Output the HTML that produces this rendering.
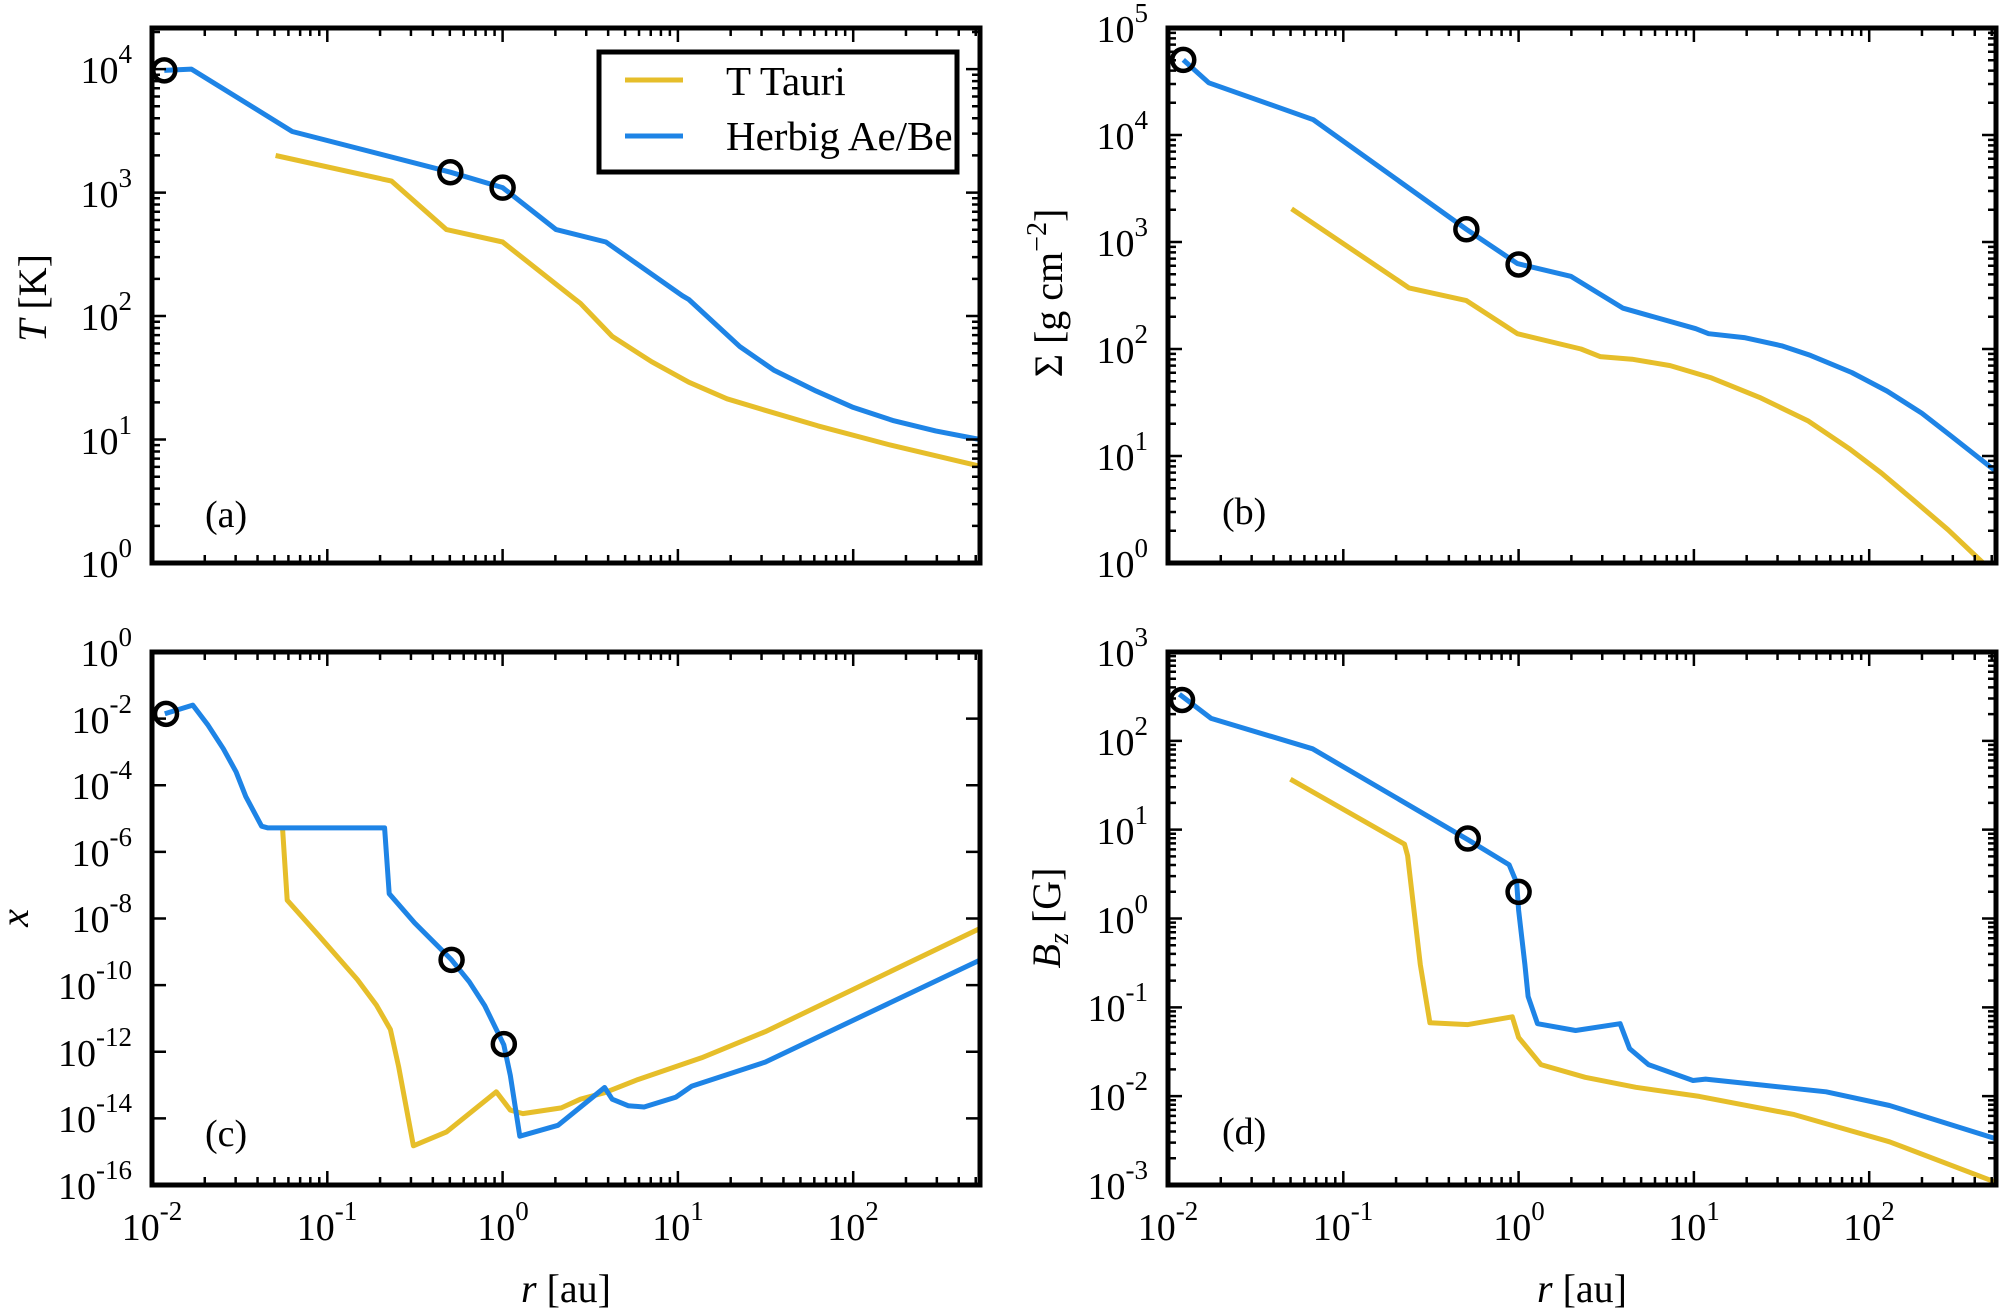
<!DOCTYPE html>
<html><head><meta charset="utf-8"><style>
html,body{margin:0;padding:0;background:#fff}
svg{display:block}
text{font-family:"Liberation Serif",serif;fill:#000}
</style></head><body>
<svg id="s" width="2000" height="1313" viewBox="0 0 2000 1313" xmlns="http://www.w3.org/2000/svg">
<g id="plots"></g>
<g font-size="38" text-anchor="end">
<text x="132" y="577">10<tspan dy="-20" font-size="27">0</tspan></text>
<text x="132" y="454">10<tspan dy="-20" font-size="27">1</tspan></text>
<text x="132" y="330">10<tspan dy="-20" font-size="27">2</tspan></text>
<text x="132" y="207">10<tspan dy="-20" font-size="27">3</tspan></text>
<text x="132" y="83">10<tspan dy="-20" font-size="27">4</tspan></text>
<text x="1148" y="577">10<tspan dy="-20" font-size="27">0</tspan></text>
<text x="1148" y="470">10<tspan dy="-20" font-size="27">1</tspan></text>
<text x="1148" y="363">10<tspan dy="-20" font-size="27">2</tspan></text>
<text x="1148" y="256">10<tspan dy="-20" font-size="27">3</tspan></text>
<text x="1148" y="149">10<tspan dy="-20" font-size="27">4</tspan></text>
<text x="1148" y="42">10<tspan dy="-20" font-size="27">5</tspan></text>
<text x="132" y="666">10<tspan dy="-20" font-size="27">0</tspan></text>
<text x="132" y="733">10<tspan dy="-20" font-size="27">-2</tspan></text>
<text x="132" y="799">10<tspan dy="-20" font-size="27">-4</tspan></text>
<text x="132" y="866">10<tspan dy="-20" font-size="27">-6</tspan></text>
<text x="132" y="932">10<tspan dy="-20" font-size="27">-8</tspan></text>
<text x="132" y="999">10<tspan dy="-20" font-size="27">-10</tspan></text>
<text x="132" y="1066">10<tspan dy="-20" font-size="27">-12</tspan></text>
<text x="132" y="1132">10<tspan dy="-20" font-size="27">-14</tspan></text>
<text x="132" y="1199">10<tspan dy="-20" font-size="27">-16</tspan></text>
<text x="1148" y="666">10<tspan dy="-20" font-size="27">3</tspan></text>
<text x="1148" y="755">10<tspan dy="-20" font-size="27">2</tspan></text>
<text x="1148" y="844">10<tspan dy="-20" font-size="27">1</tspan></text>
<text x="1148" y="933">10<tspan dy="-20" font-size="27">0</tspan></text>
<text x="1148" y="1021">10<tspan dy="-20" font-size="27">-1</tspan></text>
<text x="1148" y="1110">10<tspan dy="-20" font-size="27">-2</tspan></text>
<text x="1148" y="1199">10<tspan dy="-20" font-size="27">-3</tspan></text>
</g>
<g font-size="38" text-anchor="middle">
<text x="152" y="1240">10<tspan dy="-20" font-size="27">-2</tspan></text>
<text x="327" y="1240">10<tspan dy="-20" font-size="27">-1</tspan></text>
<text x="503" y="1240">10<tspan dy="-20" font-size="27">0</tspan></text>
<text x="678" y="1240">10<tspan dy="-20" font-size="27">1</tspan></text>
<text x="853" y="1240">10<tspan dy="-20" font-size="27">2</tspan></text>
<text x="1168" y="1240">10<tspan dy="-20" font-size="27">-2</tspan></text>
<text x="1343" y="1240">10<tspan dy="-20" font-size="27">-1</tspan></text>
<text x="1519" y="1240">10<tspan dy="-20" font-size="27">0</tspan></text>
<text x="1694" y="1240">10<tspan dy="-20" font-size="27">1</tspan></text>
<text x="1869" y="1240">10<tspan dy="-20" font-size="27">2</tspan></text>
</g>
<g font-size="40" text-anchor="middle">
<text x="566" y="1302"><tspan font-style="italic">r</tspan> [au]</text>
<text x="1582" y="1302"><tspan font-style="italic">r</tspan> [au]</text>
<text transform="translate(46,298) rotate(-90)"><tspan font-style="italic">T</tspan> [K]</text>
<text transform="translate(1062,293) rotate(-90)">Σ [g cm<tspan dy="-16" font-size="28">−2</tspan><tspan dy="16">]</tspan></text>
<text transform="translate(28,918) rotate(-90)" font-style="italic">x</text>
<text transform="translate(1060,918) rotate(-90)"><tspan font-style="italic">B<tspan dy="8" font-size="28">z</tspan></tspan><tspan dy="-8"> [G]</tspan></text>
</g>
<g font-size="38">
<text x="205" y="527">(a)</text>
<text x="1222" y="524">(b)</text>
<text x="205" y="1146">(c)</text>
<text x="1222" y="1144">(d)</text>
</g>
<rect x="599" y="52" width="358" height="120" fill="#fff" stroke="#000" stroke-width="5"/>
<line x1="625" y1="80" x2="683" y2="80" stroke="#E6BE2A" stroke-width="5"/>
<line x1="625" y1="136" x2="683" y2="136" stroke="#1E84E6" stroke-width="5"/>
<g font-size="41"><text x="726" y="95">T Tauri</text><text x="726" y="150">Herbig Ae/Be</text></g>
</svg>
<script>
var NS="http://www.w3.org/2000/svg",G=document.getElementById("plots");
function el(t,a){var e=document.createElementNS(NS,t);for(var k in a)e.setAttribute(k,a[k]);G.appendChild(e);return e;}
var W=828,XD=175.3;
function panel(x0,y0,y1,ymin,ymax,minor,step,blue,yel,circ){
 var h=y1-y0;
 function X(l){return x0+(l+2)*XD;}
 function Y(l){return y1-(l-ymin)/(ymax-ymin)*h;}
 function pts(a){var s="";for(var i=0;i<a.length;i+=2)s+=(i?"L":"M")+X(a[i]).toFixed(1)+","+Y(a[i+1]).toFixed(1);return s;}
 el("path",{d:pts(yel),fill:"none",stroke:"#E6BE2A","stroke-width":5,"stroke-linejoin":"round"});
 el("path",{d:pts(blue),fill:"none",stroke:"#1E84E6","stroke-width":5,"stroke-linejoin":"round"});
 for(var i=0;i<circ.length;i+=2)el("circle",{cx:X(circ[i]),cy:Y(circ[i+1]),r:11,fill:"none",stroke:"#000","stroke-width":4.5});
 var d="";
 for(var e=-2;e<=2;e++)for(var m=1;m<10;m++){var l=e+Math.log10(m);if(l>2.723)break;var xx=X(l),L=m==1?14:8;d+="M"+xx+","+y1+"v-"+L+"M"+xx+","+y0+"v"+L;}
 for(var e=ymin;e<=ymax;e+=step){var yy=Y(e);d+="M"+x0+","+yy+"h14M"+(x0+W)+","+yy+"h-14";
  if(minor)for(var m=2;m<10;m++){var l=e+Math.log10(m);if(l>ymax)break;yy=Y(l);d+="M"+x0+","+yy+"h8M"+(x0+W)+","+yy+"h-8";}}
 el("path",{d:d,stroke:"#000","stroke-width":2.5,fill:"none"});
 el("rect",{x:x0,y:y0,width:W,height:h,fill:"none",stroke:"#000","stroke-width":5});
}
panel(152,28,563,0,4.333,true,1,
[-1.93,3.99,-1.775,4.0,-1.2,3.495,-0.298,3.165,0,3.04,0.305,2.70,0.589,2.60,1.025,2.165,1.062,2.134,1.353,1.753,1.55,1.56,1.789,1.392,2.0,1.26,2.225,1.155,2.47,1.07,2.723,1.0],
[-1.295,3.3,-0.633,3.093,-0.32,2.70,0,2.60,0.407,2.144,0.444,2.103,0.625,1.835,0.85,1.63,1.062,1.464,1.28,1.33,1.498,1.237,1.8,1.11,2.2,0.96,2.723,0.784],
[-1.93,3.99,-0.298,3.165,0,3.04]);
panel(1168,28,563,0,5,true,1,
[-1.913,4.702,-1.767,4.488,-1.171,4.143,-0.298,3.119,-0.007,2.798,0.298,2.679,0.596,2.381,1.011,2.19,1.084,2.143,1.287,2.107,1.5,2.03,1.665,1.94,1.9,1.78,2.102,1.607,2.3,1.40,2.465,1.19,2.723,0.857],
[-1.295,3.31,-0.625,2.571,-0.298,2.452,-0.007,2.143,0.356,2.0,0.465,1.929,0.647,1.905,0.865,1.845,1.1,1.73,1.375,1.548,1.65,1.33,1.884,1.071,2.07,0.84,2.247,0.595,2.45,0.31,2.65,0.0],
[-1.913,4.702,-0.298,3.119,0,2.79]);
panel(152,652,1185,-16,0,false,2,
[-1.927,-1.856,-1.767,-1.595,-1.68,-2.2,-1.593,-2.902,-1.52,-3.6,-1.465,-4.34,-1.375,-5.229,-1.338,-5.281,-0.673,-5.281,-0.647,-7.255,-0.502,-8.131,-0.291,-9.242,-0.19,-9.9,-0.102,-10.614,0.007,-11.79,0.044,-12.706,0.098,-14.536,0.316,-14.209,0.582,-13.072,0.625,-13.425,0.716,-13.621,0.807,-13.66,0.989,-13.36,1.08,-13.03,1.498,-12.31,2.723,-9.25],
[-1.255,-5.32,-1.229,-7.45,-1.047,-8.523,-0.829,-9.83,-0.72,-10.6,-0.64,-11.333,-0.593,-12.444,-0.509,-14.824,-0.32,-14.405,-0.036,-13.203,0.044,-13.752,0.116,-13.856,0.335,-13.686,0.444,-13.425,0.582,-13.229,0.771,-12.837,1.135,-12.183,1.498,-11.399,2.723,-8.3],
[-1.92,-1.856,-0.291,-9.242,0.007,-11.77]);
panel(1168,652,1185,-3,3,true,1,
[-1.935,2.524,-1.754,2.253,-1.175,1.91,-0.289,0.887,-0.054,0.606,-0.011,0.401,0,0.095,0.036,-0.519,0.054,-0.877,0.108,-1.184,0.325,-1.261,0.579,-1.184,0.633,-1.465,0.741,-1.645,0.995,-1.824,1.067,-1.808,1.392,-1.875,1.754,-1.951,2.116,-2.105,2.723,-2.48],
[-1.302,1.568,-0.651,0.836,-0.633,0.708,-0.561,-0.519,-0.506,-1.174,-0.289,-1.194,-0.036,-1.107,0,-1.338,0.127,-1.645,0.38,-1.788,0.669,-1.9,1.031,-2.003,1.573,-2.207,2.116,-2.514,2.723,-2.97],
[-1.92,2.46,-0.29,0.9,0,0.3]);
</script>
</body></html>
